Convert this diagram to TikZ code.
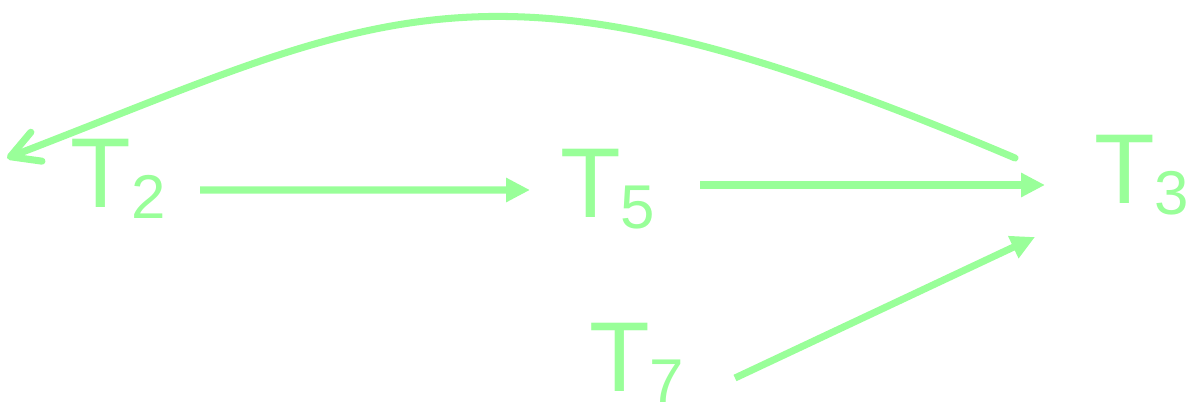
\documentclass[tikz,border=0pt]{standalone}
\usepackage{fontspec}
\setmainfont{Liberation Sans}
\usetikzlibrary{arrows.meta}
\definecolor{lightgreen}{HTML}{99FF99}

\begin{document}
\begin{tikzpicture}[
    every node/.style={inner sep=0pt, outer sep=0pt, anchor=base west,
        text=lightgreen, font=\fontsize{56.5}{60}\selectfont},
    edge/.style={draw=lightgreen, line width=4pt,
        -{Triangle[length=0.48cm, width=0.46cm]}},
    back/.style={draw=lightgreen, line width=4pt, line cap=round,
        -{Straight Barb[length=0.56cm, width=0.62cm, round]}}
]
    \useasboundingbox (0,0) rectangle (23.72,8.1);

    % T with a lowered index
    \def\tsub#1{T{\fontsize{35.2}{36}\selectfont\raisebox{-6.8pt}{#1}}}

    \node (t2) at (1.42, 3.96) {\tsub{2}};
    \node (t5) at (11.20, 3.76) {\tsub{5}};
    \node (t3) at (21.88, 4.04) {\tsub{3}};
    \node (t7) at (11.78, 0.28) {\tsub{7}};

    \draw[edge] ([shift={(2.58,0.34)}]t2.base west) -- ([shift={(-0.60,0.54)}]t5.base west);
    \draw[edge] ([shift={(2.80,0.64)}]t5.base west) -- ([shift={(-0.98,0.36)}]t3.base west);
    \draw[edge] ([shift={(2.92,0.26)}]t7.base west) -- ([shift={(-1.18,-0.68)}]t3.base west);

    % loop back over the top
    \draw[back] ([shift={(-1.58,0.90)}]t3.base west)
        .. controls (9.70,9.44) and (7.84,7.90) ..
        ([shift={(-1.28,0.98)}]t2.base west);
\end{tikzpicture}
\end{document}
